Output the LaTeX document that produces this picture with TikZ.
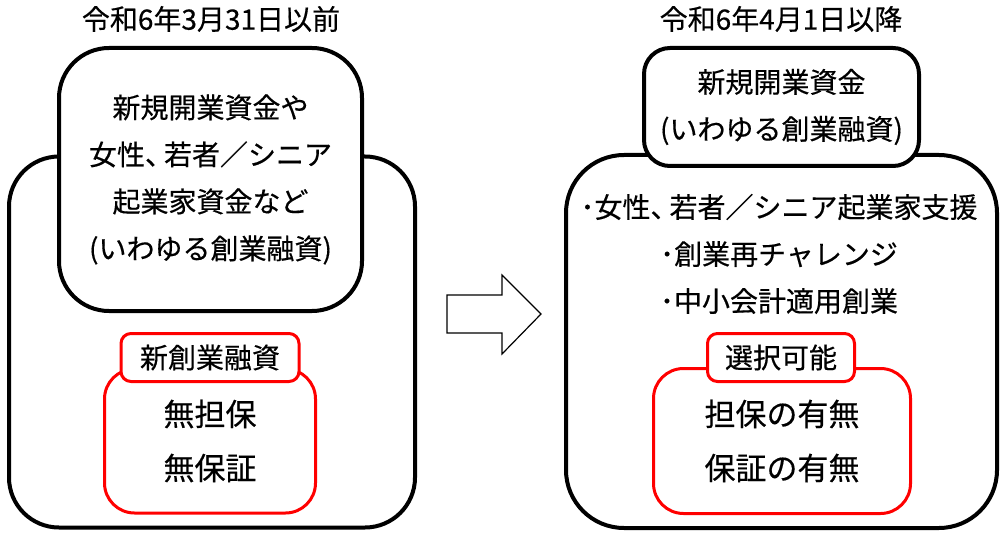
\documentclass[tikz,border=0pt]{standalone}
\usepackage{fontspec}
\setmainfont{Noto Sans CJK JP}[FakeBold=0.4]
\definecolor{boxred}{HTML}{FF0000}
\newcommand{\tten}{、\kern-9pt}
\begin{document}
\begin{tikzpicture}[x=1pt,y=-1pt,
  blackbox/.style={draw=black,line width=4pt,fill=white,inner sep=0pt,align=center},
  redbox/.style={draw=boxred,line width=3pt,fill=white,inner sep=0pt,align=center},
  body/.style={font=\fontsize{28}{47}\selectfont},
  big/.style={font=\fontsize{31}{54}\selectfont},
  title/.style={font=\fontsize{28}{30}\selectfont,inner sep=0pt},
  arrowshape/.style={draw=black,line width=1.2pt,fill=white,line join=miter}]
\useasboundingbox (0,0) rectangle (1006,540);
\fill[white] (0,0) rectangle (1006,540);
% titles
\node[title] (t1) at (211,19) {令和6年3月31日以前};
\node[title] (t2) at (781,19) {令和6年4月1日以降};
% left side
\node[blackbox,rounded corners=50pt,minimum width=406pt,minimum height=371pt] (lout) at (212,342) {};
\node[blackbox,body,rounded corners=50pt,minimum width=303pt,minimum height=263pt] (lin) at (210.5,179.5)
  {新規開業資金や\\女性\tten 若者／シニア\\起業家資金など\\(いわゆる創業融資)};
\node[redbox,big,rounded corners=30pt,minimum width=211pt,minimum height=144pt] (lred) at (210,441)
  {無担保\\無保証};
\node[redbox,body,rounded corners=10pt,minimum width=178pt,minimum height=48pt] (llab) at (210,357.5) {新創業融資};
% arrow
\draw[arrowshape] (447,295) -- (502,295) -- (502,275) -- (541,314) -- (502,354) -- (502,333) -- (447,333) -- cycle;
% right side
\node[blackbox,rounded corners=58pt,minimum width=431pt,minimum height=373pt] (rout) at (781.5,341.5) {};
\node[blackbox,body,rounded corners=26pt,minimum width=275pt,minimum height=118pt] (rtop) at (781.5,107)
  {新規開業資金\\(いわゆる創業融資)};
\node[body,inner sep=0pt,align=center] (rlist) at (779,254)
  {･女性\tten 若者／シニア起業家支援\\･創業再チャレンジ\\･中小会計適用創業};
\node[redbox,big,rounded corners=30pt,minimum width=257pt,minimum height=145pt] (rred) at (782,441)
  {担保の有無\\保証の有無};
\node[redbox,body,rounded corners=10pt,minimum width=147pt,minimum height=48pt] (rlab) at (781,357.5) {選択可能};
\end{tikzpicture}
\end{document}
